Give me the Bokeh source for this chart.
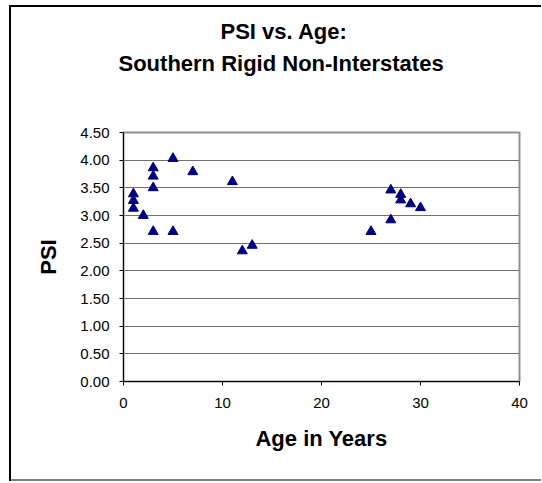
from bokeh.plotting import figure
from bokeh.models import Title, FixedTicker, NumeralTickFormatter, Range1d
from bokeh.embed import file_html
from bokeh.resources import INLINE

# Data
age = [1, 1, 1, 2, 3, 3, 3, 3, 5, 5, 7, 11, 12, 13, 25, 27, 27, 28, 28, 29, 30]
psi = [3.39, 3.27, 3.13, 3.00, 3.86, 3.71, 3.50, 2.71, 4.03, 2.71, 3.79, 3.61,
       2.36, 2.46, 2.71, 3.46, 2.92, 3.38, 3.28, 3.21, 3.14]
x_ticks = [0, 10, 20, 30, 40]
y_ticks = [0.0, 0.5, 1.0, 1.5, 2.0, 2.5, 3.0, 3.5, 4.0, 4.5]
title_line1 = "PSI vs. Age:"
title_line2 = "Southern Rigid Non-Interstates"

FONT = "Liberation Sans"

p = figure(width=532, height=476, output_backend="svg", toolbar_location=None,
           x_range=Range1d(0, 40), y_range=Range1d(0, 4.5),
           min_border_left=114, min_border_right=22,
           min_border_top=127, min_border_bottom=100)
p.margin = (5, 0, 0, 9)

# spacer panel between frame and the titles
p.add_layout(Title(text=" ", text_font_size="1px", standoff=54), "above")
p.add_layout(Title(text=title_line2, text_font=FONT,
                   text_font_size="22px", text_font_style="bold",
                   text_color="black",
                   align="left", offset=-5, standoff=0), "above")
p.add_layout(Title(text=title_line1, text_font=FONT,
                   text_font_size="22px", text_font_style="bold",
                   text_color="black",
                   align="left", offset=97, standoff=9), "above")

p.scatter(age, psi, marker="triangle", size=10, fill_color="#000080",
          line_color="#000080")

p.xaxis.ticker = FixedTicker(ticks=x_ticks)
p.yaxis.ticker = FixedTicker(ticks=y_ticks)
p.yaxis.formatter = NumeralTickFormatter(format="0.00")

for ax in (p.xaxis, p.yaxis):
    ax.axis_line_color = "black"
    ax.axis_line_width = 1
    ax.major_tick_line_color = "black"
    ax.major_tick_out = 4
    ax.major_tick_in = 0
    ax.minor_tick_line_color = None
    ax.major_label_text_font = FONT
    ax.major_label_text_font_size = "15px"
    ax.major_label_text_color = "black"
    ax.axis_label_text_font = FONT
    ax.axis_label_text_font_size = "22px"
    ax.axis_label_text_font_style = "bold"
    ax.axis_label_text_color = "black"

p.xaxis.axis_label = "Age in Years"
p.yaxis.axis_label = "PSI"
p.xaxis.major_label_standoff = 12
p.yaxis.major_label_standoff = 10
p.xaxis.axis_label_standoff = 15
p.yaxis.axis_label_standoff = 16

p.xgrid.grid_line_color = None
p.ygrid.grid_line_color = "#707070"
p.ygrid.grid_line_width = 1

p.outline_line_color = "#909090"
p.outline_line_width = 2
p.background_fill_color = "white"
p.border_fill_color = None
p.styles = {"background-color": "white",
            "box-shadow": "inset 2px 2px 0 0 black, inset 0 -2px 0 0 #808080"}

open("out.html", "w").write(file_html(p, INLINE))
